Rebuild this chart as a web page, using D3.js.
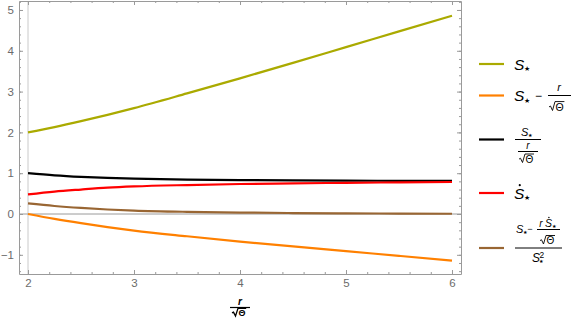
<!DOCTYPE html>
<html>
  <head>
    <meta charset="utf-8">
    <title>S star plot</title>
    <style>
    body { margin: 0; background: #fff; }
    .frame path, .frame line { stroke: #9a9a9a; }
    .frame text { fill: #6b6b6b; font-family: "Liberation Sans", Arial, sans-serif; font-size: 11.5px; }
    .math { font-family: "Liberation Sans", Arial, sans-serif; fill: #000; }
    </style>
  </head>
  <body>
    <svg width="581" height="326"></svg>
    <script src="https://cdn.jsdelivr.net/npm/d3@7"></script>
    <script>

      // r / sqrt(Theta) sample points
      var xs = [2, 2.25, 2.5, 2.75, 3, 3.5, 4, 4.5, 5, 5.5, 6];

      // values
      var sStar     = [2.00, 2.13, 2.275, 2.43, 2.595, 2.955, 3.325, 3.705, 4.09, 4.475, 4.86];
      var sMinusR   = [0.00, -0.12, -0.225, -0.32, -0.405, -0.545, -0.675, -0.795, -0.91, -1.025, -1.14];
      var sOverR    = [1.00, 0.947, 0.91, 0.884, 0.865, 0.844, 0.831, 0.823, 0.818, 0.814, 0.81];
      var sDot      = [0.48, 0.55, 0.60, 0.645, 0.675, 0.71, 0.735, 0.75, 0.765, 0.775, 0.785];
      var sRatio    = [0.26, 0.197, 0.149, 0.111, 0.085, 0.054, 0.035, 0.024, 0.016, 0.011, 0.006];

      var xTicks = [2, 3, 4, 5, 6];
      var yTicks = [-1, 0, 1, 2, 3, 4, 5];

      var series = [
        {values: sStar,   color: "#aaaa00"},
        {values: sMinusR, color: "#ff8000"},
        {values: sOverR,  color: "#000000"},
        {values: sDot,    color: "#ff0000"},
        {values: sRatio,  color: "#996633"}
      ];

      var svg = d3.select("svg"),
          pLeft = 19, pRight = 461, pTop = 1, pBottom = 274;

      var x = d3.scaleLinear().domain([1.915, 6.085]).range([pLeft, pRight]),
          y = d3.scaleLinear().domain([-1.47, 5.22]).range([pBottom, pTop]);

      var minorX = d3.range(1.2, 6.81, 0.2).filter(function(v) { return v > 1.915 && v < 6.085; }),
          minorY = d3.range(-1.4, 5.21, 0.2);

      // thin axes lines through the origin of the plot
      svg.append("line")
          .attr("x1", x(2)).attr("x2", x(2)).attr("y1", pTop).attr("y2", pBottom)
          .attr("stroke", "#dcdcdc").attr("stroke-width", 1.5);
      svg.append("line")
          .attr("x1", pLeft).attr("x2", pRight).attr("y1", y(0)).attr("y2", y(0))
          .attr("stroke", "#9a9a9a").attr("stroke-width", 1);

      // frame: major + minor ticks, pointing inward
      function frame(axisFn, scale, pos, major, minor, labels) {
        var gMin = svg.append("g").attr("class", "frame").attr("transform", pos)
            .call(axisFn(scale).tickValues(minor).tickSize(-2).tickFormat(""));
        gMin.select(".domain").remove();
        var g = svg.append("g").attr("class", "frame").attr("transform", pos)
            .call(axisFn(scale).tickValues(major).tickSizeInner(-4).tickSizeOuter(0).tickPadding(5)
              .tickFormat(labels ? function(d) { return d < 0 ? "\u22121" : d; } : ""));
        g.select(".domain").attr("stroke", "#9a9a9a");
        return g;
      }

      frame(d3.axisBottom, x, "translate(0," + pBottom + ")", xTicks, minorX, true);
      frame(d3.axisTop, x, "translate(0," + pTop + ")", xTicks, minorX, false);
      frame(d3.axisLeft, y, "translate(" + pLeft + ",0)", yTicks, minorY, true);
      frame(d3.axisRight, y, "translate(" + pRight + ",0)", yTicks, minorY, false);

      var line = d3.line()
          .x(function(d, i) { return x(xs[i]); })
          .y(function(d) { return y(d); })
          .curve(d3.curveMonotoneX);

      svg.selectAll(".curve")
        .data(series)
        .enter().append("path")
          .attr("class", "curve")
          .attr("fill", "none")
          .attr("stroke", function(d) { return d.color; })
          .attr("stroke-width", 2.2)
          .attr("d", function(d) { return line(d.values); });

      // ---- little math typesetting helpers ----
      function t(px, py, s, size, opts) {
        opts = opts || {};
        return svg.append("text").attr("class", "math")
            .attr("x", px).attr("y", py)
            .attr("font-size", size)
            .attr("font-style", opts.italic ? "italic" : null)
            .attr("font-weight", opts.bold ? "bold" : null)
            .attr("text-anchor", opts.anchor || null)
            .text(s);
      }
      function bar(x1, x2, py, w) {
        svg.append("line").attr("x1", x1).attr("x2", x2).attr("y1", py).attr("y2", py)
            .attr("stroke", "#000").attr("stroke-width", w || 1);
      }
      // radical sign over Theta, base at py
      function sqrtTheta(px, py, size, bold) {
        var h = size * 0.85, w = size * 0.8;
        svg.append("path")
            .attr("d", "M" + px + "," + (py - h * 0.4) + "L" + (px + 1.5) + "," + (py - h * 0.5) +
                       "L" + (px + 3.5) + "," + py + "L" + (px + 6) + "," + (py - h) +
                       "L" + (px + 7 + w) + "," + (py - h))
            .attr("fill", "none").attr("stroke", "#000").attr("stroke-width", bold ? 1.3 : 0.9);
        t(px + 6.5, py, "\u0398", size, {bold: bold});
      }
      // S with subscript star (and optional dot / superscript 2)
      function sStarSym(px, py, size, opts) {
        opts = opts || {};
        t(px, py, "S", size, {italic: true});
        var sw = size * 0.62;
        if (opts.dot) {
          svg.append("circle").attr("cx", px + sw * 0.6).attr("cy", py - size * 0.86)
              .attr("r", size * 0.07).attr("fill", "#000");
        }
        t(px + sw, py + size * 0.12, "\u2605", size * 0.45);
        if (opts.sq) t(px + sw, py - size * 0.35, "2", size * 0.7);
        return px + sw + size * 0.45;
      }

      // ---- x label: r / sqrt(Theta) ----
      var cx = (pLeft + pRight) / 2;
      t(cx, 305, "r", 10, {italic: true, bold: true, anchor: "middle"});
      bar(cx - 10, cx + 10, 307.5, 1.2);
      sqrtTheta(cx - 8, 316, 9, true);

      // ---- legend ----
      var legendY = [64, 95.5, 139.5, 193, 248];
      svg.selectAll(".swatch")
        .data(series)
        .enter().append("line")
          .attr("class", "swatch")
          .attr("x1", 479).attr("x2", 504)
          .attr("y1", function(d, i) { return legendY[i]; })
          .attr("y2", function(d, i) { return legendY[i]; })
          .attr("stroke", function(d) { return d.color; })
          .attr("stroke-width", 2.2);

      // 1: S*
      sStarSym(514, 69.5, 15.5);

      // 2: S* - r/sqrt(Theta)
      sStarSym(514, 101, 15.5);
      t(538.5, 100, "\u2212", 12, {anchor: "middle"});
      t(559, 91, "r", 11, {italic: true, anchor: "middle"});
      bar(548, 571, 95.5);
      sqrtTheta(549, 110.5, 10.5);

      // 3: S* / (r / sqrt(Theta))
      sStarSym(521, 135.5, 11);
      bar(515, 541, 139.5);
      t(528, 148.5, "r", 10, {italic: true, anchor: "middle"});
      bar(518, 538, 151.5);
      sqrtTheta(519, 162.5, 10);

      // 4: S* dot
      sStarSym(514, 198.5, 15.5, {dot: true});

      // 5: (S* - r S*dot / sqrt(Theta)) / S*^2
      sStarSym(516, 233, 11);
      t(530, 232, "\u2212", 9, {anchor: "middle"});
      t(541, 226.5, "r", 10, {italic: true, anchor: "middle"});
      sStarSym(545, 226.5, 10.5, {dot: true});
      bar(537, 560, 229.5);
      sqrtTheta(540, 244, 10);
      bar(515, 562, 248);
      sStarSym(532, 262, 12, {sq: true});
    </script>
  </body>
</html>
